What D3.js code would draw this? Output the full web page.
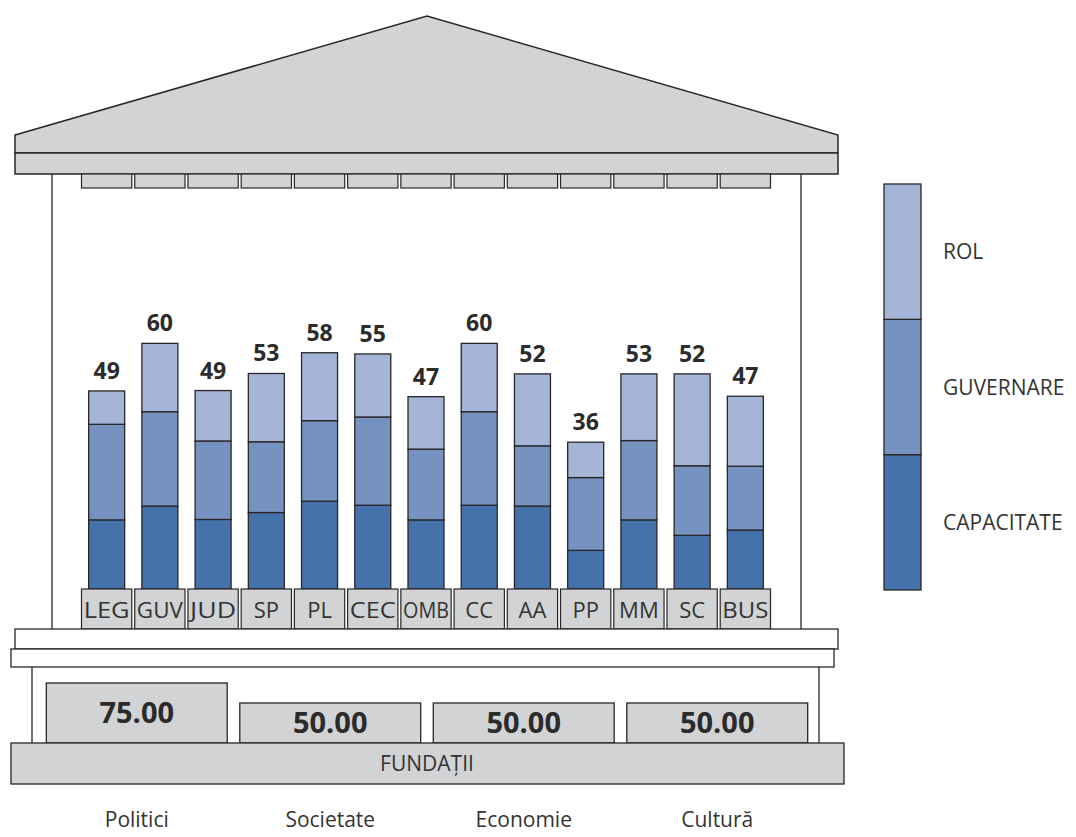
<!DOCTYPE html>
<html>
<head>
<meta charset="utf-8">
<script src="https://cdn.jsdelivr.net/npm/d3@7"></script>
<style>
  body { margin: 0; background: #fff; }
  svg { font-family: "Open Sans", "Noto Sans", sans-serif; }
  .lbl { fill: #333; font-weight: 400; }
  .num { fill: #2b2b2b; font-weight: 700; }
</style>
</head>
<body>
<svg id="temple" width="1076" height="837"></svg>
<script>
// institutions on the facade
const institutions = ["LEG", "GUV", "JUD", "SP", "PL", "CEC", "OMB", "CC", "AA", "PP", "MM", "SC", "BUS"];
// stacked parts of each column
const capacitate = [17.0, 20.4, 17.1, 18.8, 21.6, 20.6, 17.0, 20.6, 20.4, 9.5, 17.0, 13.2, 14.5];
const guvernare  = [23.5, 23.2, 19.3, 17.4, 19.8, 21.7, 17.4, 23.0, 14.8, 17.9, 19.5, 17.1, 15.7];
const rol        = [ 8.2, 16.8, 12.4, 16.8, 16.7, 15.5, 12.9, 16.8, 17.7, 8.7, 16.4, 22.6, 17.2];
// totals printed over the columns
const totals = [49, 60, 49, 53, 58, 55, 47, 60, 52, 36, 53, 52, 47];

// foundation pillars
const pillars = ["Politici", "Societate", "Economie", "Cultură"];
const pillarValues = [75, 50, 50, 50];

const seriesNames = ["CAPACITATE", "GUVERNARE", "ROL"];
const seriesColors = ["#4672ab", "#7592c1", "#a4b5d7"];

const grey = "#d1d3d4";
const ink = "#2a2627";

const svg = d3.select("#temple");

const render = () => {
  // roof
  svg.append("path")
    .attr("d", "M15,135 L427,16 L838,135 L838,153 L15,153 Z")
    .attr("fill", grey).attr("stroke", ink).attr("stroke-width", 1.5);
  svg.append("rect")
    .attr("x", 15).attr("y", 153).attr("width", 823).attr("height", 21)
    .attr("fill", grey).attr("stroke", ink).attr("stroke-width", 1.5);

  // side walls
  [52, 801].forEach(x => {
    svg.append("line")
      .attr("x1", x).attr("x2", x).attr("y1", 174).attr("y2", 629)
      .attr("stroke", ink).attr("stroke-width", 1.3);
  });
  [32, 819].forEach(x => {
    svg.append("line")
      .attr("x1", x).attr("x2", x).attr("y1", 667).attr("y2", 743)
      .attr("stroke", ink).attr("stroke-width", 1.3);
  });

  const xScale = d3.scaleBand()
    .domain(institutions)
    .range([81.5, 770.5])
    .paddingInner(0.055)
    .paddingOuter(0.0);

  const yScale = d3.scaleLinear()
    .domain([0, 60])
    .range([589, 345]);

  // small blocks under the roof
  svg.append("g").selectAll("rect")
    .data(institutions)
    .join("rect")
    .attr("x", d => xScale(d))
    .attr("y", 174)
    .attr("width", xScale.bandwidth())
    .attr("height", 14)
    .attr("fill", grey).attr("stroke", ink).attr("stroke-width", 1.2);

  // stacked columns
  const rows = institutions.map((d, i) => ({
    name: d, CAPACITATE: capacitate[i], GUVERNARE: guvernare[i], ROL: rol[i], total: totals[i]
  }));
  const stacked = d3.stack().keys(seriesNames)(rows);
  const barWidth = 36;

  svg.append("g").selectAll("g")
    .data(stacked)
    .join("g")
    .attr("fill", (d, i) => seriesColors[i])
    .selectAll("rect")
    .data(d => d)
    .join("rect")
    .attr("x", d => xScale(d.data.name) + (xScale.bandwidth() - barWidth) / 2)
    .attr("y", d => yScale(d[1]))
    .attr("width", barWidth)
    .attr("height", d => yScale(d[0]) - yScale(d[1]))
    .attr("stroke", ink).attr("stroke-width", 1.3);

  svg.append("g").selectAll("text")
    .data(rows)
    .join("text")
    .attr("class", "num")
    .attr("x", d => xScale(d.name) + xScale.bandwidth() / 2)
    .attr("y", d => yScale(d.CAPACITATE + d.GUVERNARE + d.ROL) - 12)
    .attr("text-anchor", "middle")
    .attr("font-size", 23)
    .text(d => d.total);

  // name plates
  const plates = svg.append("g").selectAll("g")
    .data(institutions)
    .join("g")
    .attr("transform", d => `translate(${xScale(d)}, 589)`);
  plates.append("rect")
    .attr("width", xScale.bandwidth())
    .attr("height", 40)
    .attr("fill", grey).attr("stroke", ink).attr("stroke-width", 1.2);
  plates.append("text")
    .attr("class", "lbl")
    .attr("x", xScale.bandwidth() / 2)
    .attr("y", 29)
    .attr("text-anchor", "middle")
    .attr("font-size", 22)
    .attr("textLength", d => d.length > 2 ? 46 : null)
    .attr("lengthAdjust", "spacingAndGlyphs")
    .text(d => d);

  // steps
  svg.append("rect")
    .attr("x", 15).attr("y", 629).attr("width", 823).attr("height", 20)
    .attr("fill", "#fff").attr("stroke", ink).attr("stroke-width", 1.3);
  svg.append("rect")
    .attr("x", 11).attr("y", 649).attr("width", 823).attr("height", 18)
    .attr("fill", "#fff").attr("stroke", ink).attr("stroke-width", 1.3);

  // foundation pillars
  const pScale = d3.scaleBand()
    .domain(pillars)
    .range([40.5, 813.5])
    .paddingInner(0.065)
    .paddingOuter(0.03);
  const hScale = d3.scaleLinear().domain([0, 100]).range([0, 80]);

  const pg = svg.append("g").selectAll("g")
    .data(pillars)
    .join("g");
  pg.append("rect")
    .attr("x", d => pScale(d))
    .attr("y", (d, i) => 743 - hScale(pillarValues[i]))
    .attr("width", pScale.bandwidth())
    .attr("height", (d, i) => hScale(pillarValues[i]))
    .attr("fill", grey).attr("stroke", ink).attr("stroke-width", 1.3);
  pg.append("text")
    .attr("class", "num")
    .attr("x", d => pScale(d) + pScale.bandwidth() / 2)
    .attr("y", (d, i) => 743 - hScale(pillarValues[i]) / 2)
    .attr("dy", "0.36em")
    .attr("text-anchor", "middle")
    .attr("font-size", 29)
    .text((d, i) => d3.format(".2f")(pillarValues[i]));
  pg.append("text")
    .attr("class", "lbl")
    .attr("x", d => pScale(d) + pScale.bandwidth() / 2)
    .attr("y", 827)
    .attr("text-anchor", "middle")
    .attr("font-size", 21)
    .text(d => d);

  // base
  svg.append("rect")
    .attr("x", 11).attr("y", 743).attr("width", 833).attr("height", 41)
    .attr("fill", grey).attr("stroke", ink).attr("stroke-width", 1.3);
  svg.append("text")
    .attr("class", "lbl")
    .attr("x", 427).attr("y", 771)
    .attr("text-anchor", "middle")
    .attr("font-size", 21)
    .text("FUNDAȚII");

  // legend
  const legScale = d3.scaleBand()
    .domain(seriesNames.slice().reverse())
    .range([184, 590]);
  const leg = svg.append("g").selectAll("g")
    .data(seriesNames)
    .join("g");
  leg.append("rect")
    .attr("x", 884)
    .attr("y", d => legScale(d))
    .attr("width", 37)
    .attr("height", legScale.bandwidth())
    .attr("fill", (d, i) => seriesColors[i])
    .attr("stroke", ink).attr("stroke-width", 1.3);
  leg.append("text")
    .attr("class", "lbl")
    .attr("x", 943)
    .attr("y", d => legScale(d) + legScale.bandwidth() / 2)
    .attr("dy", "0.36em")
    .attr("font-size", 21)
    .text(d => d);
};

render();
</script>
</body>
</html>
